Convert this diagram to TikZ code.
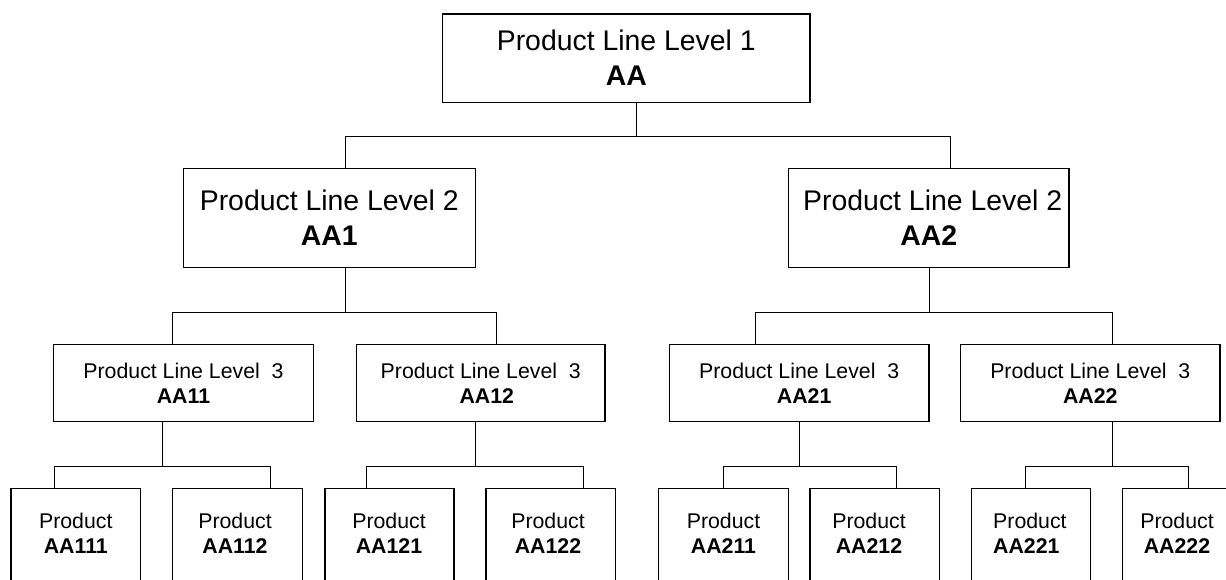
\documentclass[tikz,border=0pt]{standalone}
\usepackage{fontspec}
\setmainfont{Liberation Sans}

% parent, x of the drop, drop length, left child, its x, right child, its x
\newcommand\treefork[7]{%
  \draw[wire] (#1.south -| #2,0) -- ++(0,#3) coordinate (#1-bus);
  \draw[wire] (#4.north -| #5,0) |- (#1-bus) -| (#6.north -| #7,0);
}

\begin{document}
\begin{tikzpicture}[x=1pt,y=-1pt,
  box/.style={draw=black, line width=1.2pt, inner sep=0pt, align=center},
  big/.style={font=\fontsize{28.4}{35}\selectfont},
  small/.style={font=\fontsize{21.3}{25}\selectfont},
  l3/.style={box, small, minimum width=#1, minimum height=77.4pt},
  prod/.style={draw=black, line width=1.2pt, inner sep=0pt, minimum width=#1, minimum height=111.7pt},
  lbl/.style={inner sep=0pt, align=center, small},
  wire/.style={draw=black, line width=1pt}]

\useasboundingbox (0,0) rectangle (1226,580);
\clip (0,0) rectangle (1226,580);

% level 1
\node[box, big, minimum width=367.3pt, minimum height=88.3pt] (AA) at (626.3,58.2)
  {Product Line Level 1\\\textbf{AA}};

% level 2
\node[box, big, minimum width=292pt, minimum height=99pt] (AA1) at (329.3,217.8)
  {Product Line Level 2\\\textbf{AA1}};
\node[box, big, minimum width=280.7pt, minimum height=99pt] (AA2) at (928.7,217.8)
  {\hspace*{8pt}Product Line Level 2\\\textbf{AA2}};

% level 3
\node[l3=259.6pt] (AA11) at (183.5,383) {Product Line Level\ \ 3\\\textbf{AA11}};
\node[l3=248.3pt] (AA12) at (480.8,383) {Product Line Level\ \ 3\\\hspace*{12pt}\textbf{AA12}};
\node[l3=259.7pt] (AA21) at (799.2,383) {Product Line Level\ \ 3\\\hspace*{10pt}\textbf{AA21}};
\node[l3=259.3pt] (AA22) at (1090.3,383) {Product Line Level\ \ 3\\\textbf{AA22}};

% products (boxes run past the lower edge)
\node[prod=129.7pt] (AA111) at (75.85,544.2) {};
\node[prod=130.4pt] (AA112) at (237.5,544.2) {};
\node[prod=129pt]   (AA121) at (389.5,544.2) {};
\node[prod=129.7pt] (AA122) at (550.85,544.2) {};
\node[prod=129.6pt] (AA211) at (723.5,544.2) {};
\node[prod=129.3pt] (AA212) at (874.65,544.2) {};
\node[prod=119pt]   (AA221) at (1031.2,544.2) {};
\node[prod=130pt]   (AA222) at (1187.7,544.2) {};

\node[lbl] (AA111-t) at (75.8,533.2) {Product\\\textbf{AA111}};
\node[lbl] (AA112-t) at (235,533.2) {Product\\\textbf{AA112}};
\node[lbl] (AA121-t) at (389,533.2) {Product\\\textbf{AA121}};
\node[lbl] (AA122-t) at (548,533.2) {Product\\\textbf{AA122}};
\node[lbl] (AA211-t) at (723.5,533.2) {Product\\\textbf{AA211}};
\node[lbl] (AA212-t) at (869,533.2) {Product\\\textbf{AA212}};
\node[lbl, align=left, anchor=west] (AA221-t) at (993,533.2) {Product\\\textbf{AA221}};
\node[lbl] (AA222-t) at (1177,533.2) {Product\\\textbf{AA222}};

% connectors
\treefork{AA}{636.7}{33.7}{AA1}{345.7}{AA2}{950.3}
\treefork{AA1}{345}{44.4}{AA11}{172.7}{AA12}{496.7}
\treefork{AA2}{929.3}{44.4}{AA21}{755.7}{AA22}{1112}
\treefork{AA11}{162}{44}{AA111}{54}{AA112}{270}
\treefork{AA12}{475}{44}{AA121}{366.7}{AA122}{583.3}
\treefork{AA21}{799}{44}{AA211}{723.7}{AA212}{896.3}
\treefork{AA22}{1112}{44}{AA221}{1025.7}{AA222}{1188}
\end{tikzpicture}
\end{document}
